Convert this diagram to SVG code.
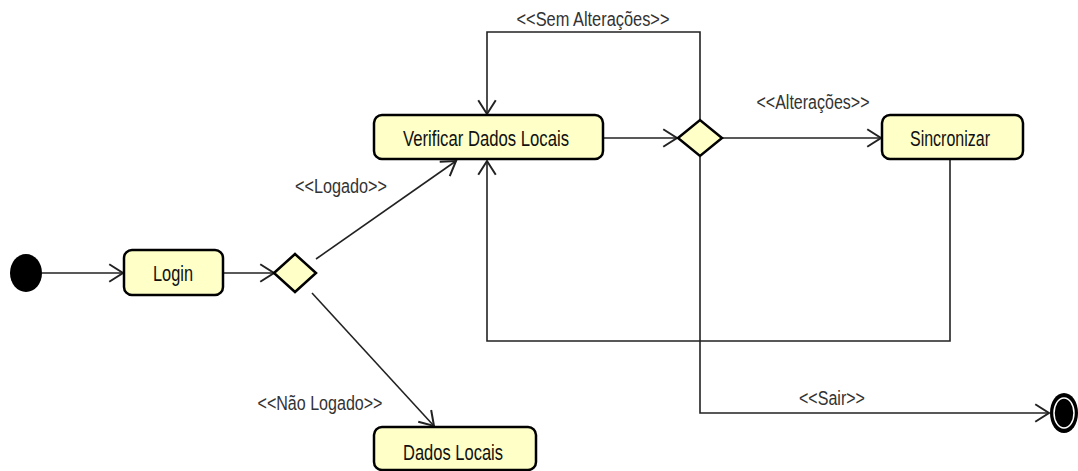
<svg xmlns="http://www.w3.org/2000/svg" width="1078" height="471" viewBox="0 0 1078 471">
<style>
.node{fill:#ffffc8;stroke:#000;stroke-width:2.5}
.t{font-family:"Liberation Sans",Arial,sans-serif;font-size:22px;fill:#111;text-anchor:middle}
.lbl{font-family:"Liberation Sans",Arial,sans-serif;font-size:20px;fill:#333;text-anchor:middle}
.c{fill:none;stroke:#222;stroke-width:1.6}
</style>
<defs>
<marker id="arr" markerUnits="userSpaceOnUse" markerWidth="20" markerHeight="20" viewBox="-12 -8 14 16" refX="0" refY="0" orient="auto">
<path d="M-11,-7 L0,0 L-11,7" fill="none" stroke="#222" stroke-width="1.6"/>
</marker>
</defs>
<g id="connectors">
<line class="c" x1="42" y1="273" x2="123" y2="273" marker-end="url(#arr)"/>
<line class="c" x1="223" y1="273" x2="274" y2="273" marker-end="url(#arr)"/>
<line class="c" x1="316" y1="259" x2="456" y2="161" marker-end="url(#arr)"/>
<line class="c" x1="312" y1="293" x2="434" y2="426" marker-end="url(#arr)"/>
<line class="c" x1="603" y1="138" x2="677" y2="138" marker-end="url(#arr)"/>
<line class="c" x1="722" y1="138" x2="881" y2="138" marker-end="url(#arr)"/>
<polyline class="c" points="700,121 700,32 487,32 487,114" marker-end="url(#arr)"/>
<polyline class="c" points="950,159 950,341 487,341 487,161" marker-end="url(#arr)"/>
<polyline class="c" points="700,157 700,413 1049,413" marker-end="url(#arr)"/>
<text class="lbl" x="341" y="193" textLength="92" lengthAdjust="spacingAndGlyphs">&lt;&lt;Logado&gt;&gt;</text>
<text class="lbl" x="320" y="410" textLength="125" lengthAdjust="spacingAndGlyphs">&lt;&lt;Não Logado&gt;&gt;</text>
<text class="lbl" x="813" y="109" textLength="113" lengthAdjust="spacingAndGlyphs">&lt;&lt;Alterações&gt;&gt;</text>
<text class="lbl" x="593" y="26" textLength="153" lengthAdjust="spacingAndGlyphs">&lt;&lt;Sem Alterações&gt;&gt;</text>
<text class="lbl" x="832" y="405" textLength="66" lengthAdjust="spacingAndGlyphs">&lt;&lt;Sair&gt;&gt;</text>
</g>
<g id="start"><ellipse cx="26" cy="273" rx="16" ry="19" fill="#000"/></g>
<g id="login"><rect class="node" x="124" y="250" width="99" height="45" rx="8"/><text class="t" x="173" y="281" textLength="40" lengthAdjust="spacingAndGlyphs">Login</text></g>
<g id="decision1"><polygon class="node" points="274,273 295,254 316,273 295,292"/></g>
<g id="verificar"><rect class="node" x="374" y="115" width="229" height="44" rx="8"/><text class="t" x="486" y="146" textLength="166" lengthAdjust="spacingAndGlyphs">Verificar Dados Locais</text></g>
<g id="decision2"><polygon class="node" points="678,138 700,120 722,138 700,156"/></g>
<g id="sincronizar"><rect class="node" x="882" y="115" width="141" height="44" rx="8"/><text class="t" x="950" y="146" textLength="80" lengthAdjust="spacingAndGlyphs">Sincronizar</text></g>
<g id="dados"><rect class="node" x="374" y="427" width="162" height="43" rx="8"/><text class="t" x="453" y="460" textLength="100" lengthAdjust="spacingAndGlyphs">Dados Locais</text></g>
<g id="end"><ellipse cx="1064" cy="413" rx="14" ry="20" fill="#000"/><ellipse cx="1064" cy="413" rx="10" ry="15" fill="none" stroke="#fff" stroke-width="1.5"/></g>
</svg>
